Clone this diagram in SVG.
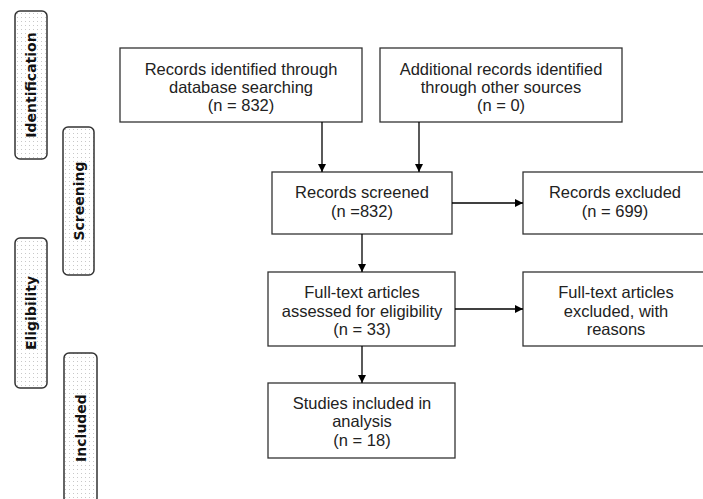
<svg xmlns="http://www.w3.org/2000/svg" width="703" height="499" viewBox="0 0 703 499">
<defs>
<pattern id="dots" width="4" height="4" patternUnits="userSpaceOnUse">
<rect width="4" height="4" fill="#ffffff"/>
<rect x="1" y="1" width="1" height="1" fill="#c8c8c8"/>
</pattern>
<marker id="arr" viewBox="0 0 10 10" refX="10" refY="5" markerWidth="8" markerHeight="8" markerUnits="userSpaceOnUse" orient="auto">
<path d="M0,0 L10,5 L0,10 z" fill="#000"/>
</marker>
</defs>
<style>
.box{fill:#fff;stroke:#333;stroke-width:1.3}
.side{fill:url(#dots);stroke:#333;stroke-width:1.5}
.t{font-family:"Liberation Sans",Arial,sans-serif;font-size:16.5px;fill:#222;text-anchor:middle}
.s{font-family:"DejaVu Sans","Liberation Sans",sans-serif;font-size:14px;font-weight:bold;fill:#111;text-anchor:middle}
.c{stroke:#000;stroke-width:1.3;fill:none}
</style>
<g id="stage-identification">
<rect class="side" x="15" y="11" width="32" height="148" rx="5"/>
<text class="s" transform="translate(36,85) rotate(-90)">Identification</text>
</g>
<g id="stage-screening">
<rect class="side" x="63" y="127" width="31" height="148" rx="5"/>
<text class="s" transform="translate(84,201) rotate(-90)">Screening</text>
</g>
<g id="stage-eligibility">
<rect class="side" x="15" y="238" width="32" height="150" rx="5"/>
<text class="s" transform="translate(36,313) rotate(-90)">Eligibility</text>
</g>
<g id="stage-included">
<rect class="side" x="64" y="353" width="33" height="150" rx="5"/>
<text class="s" transform="translate(86,428) rotate(-90)">Included</text>
</g>
<g id="n-database">
<rect class="box" x="120" y="48" width="242" height="74"/>
<text class="t" x="241" y="75">Records identified through</text>
<text class="t" x="241" y="93">database searching</text>
<text class="t" x="241" y="111">(n = 832)</text>
</g>
<g id="n-other">
<rect class="box" x="380" y="48" width="242" height="74"/>
<text class="t" x="501" y="75">Additional records identified</text>
<text class="t" x="501" y="93">through other sources</text>
<text class="t" x="501" y="111">(n = 0)</text>
</g>
<g id="n-screened">
<rect class="box" x="272" y="172" width="180" height="62"/>
<text class="t" x="362" y="198">Records screened</text>
<text class="t" x="362" y="217">(n =832)</text>
</g>
<g id="n-excluded">
<rect class="box" x="523" y="172" width="190" height="62"/>
<text class="t" x="615" y="198">Records excluded</text>
<text class="t" x="615" y="217">(n = 699)</text>
</g>
<g id="n-fulltext">
<rect class="box" x="268" y="272" width="187" height="74"/>
<text class="t" x="362" y="298">Full-text articles</text>
<text class="t" x="362" y="317">assessed for eligibility</text>
<text class="t" x="362" y="335">(n = 33)</text>
</g>
<g id="n-fulltext-excluded">
<rect class="box" x="523" y="272" width="190" height="74"/>
<text class="t" x="616" y="298">Full-text articles</text>
<text class="t" x="616" y="317">excluded, with</text>
<text class="t" x="616" y="335">reasons</text>
</g>
<g id="n-included">
<rect class="box" x="268" y="383" width="187" height="75"/>
<text class="t" x="362" y="409">Studies included in</text>
<text class="t" x="362" y="427">analysis</text>
<text class="t" x="362" y="446">(n = 18)</text>
</g>
<g id="connectors">
<line class="c" x1="322" y1="122" x2="322" y2="172" marker-end="url(#arr)"/>
<line class="c" x1="419" y1="122" x2="419" y2="172" marker-end="url(#arr)"/>
<line class="c" x1="452" y1="203" x2="523" y2="203" marker-end="url(#arr)"/>
<line class="c" x1="362" y1="234" x2="362" y2="272" marker-end="url(#arr)"/>
<line class="c" x1="455" y1="309" x2="523" y2="309" marker-end="url(#arr)"/>
<line class="c" x1="362" y1="346" x2="362" y2="383" marker-end="url(#arr)"/>
</g>
</svg>
